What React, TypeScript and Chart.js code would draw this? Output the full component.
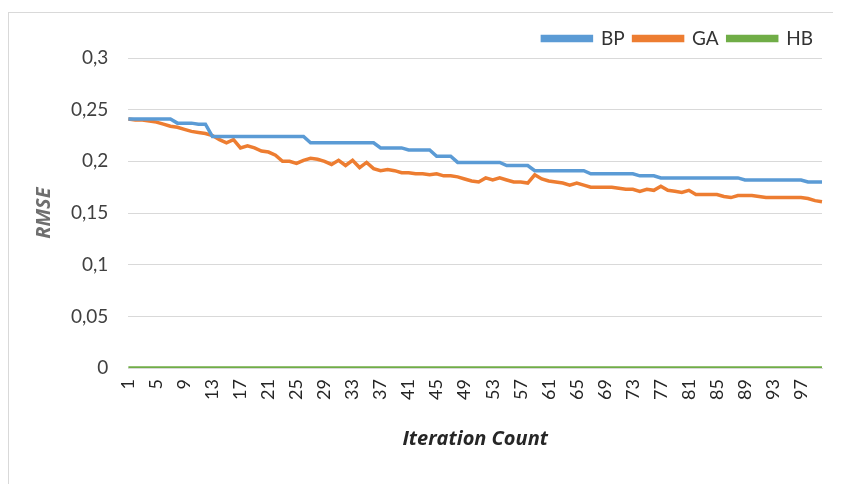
import React, { useEffect, useRef } from "react";
import { Chart, registerables } from "chart.js";

Chart.register(...registerables);

const iterations: string[] = Array.from({ length: 100 }, (_, i) => String(i + 1));

const bpValues: number[] = [
  0.241, 0.241, 0.241, 0.241, 0.241, 0.241, 0.241, 0.237, 0.237, 0.237,
  0.236, 0.236, 0.224, 0.224, 0.224, 0.224, 0.224, 0.224, 0.224, 0.224,
  0.224, 0.224, 0.224, 0.224, 0.224, 0.224, 0.218, 0.218, 0.218, 0.218,
  0.218, 0.218, 0.218, 0.218, 0.218, 0.218, 0.213, 0.213, 0.213, 0.213,
  0.211, 0.211, 0.211, 0.211, 0.205, 0.205, 0.205, 0.199, 0.199, 0.199,
  0.199, 0.199, 0.199, 0.199, 0.196, 0.196, 0.196, 0.196, 0.191, 0.191,
  0.191, 0.191, 0.191, 0.191, 0.191, 0.191, 0.188, 0.188, 0.188, 0.188,
  0.188, 0.188, 0.188, 0.186, 0.186, 0.186, 0.184, 0.184, 0.184, 0.184,
  0.184, 0.184, 0.184, 0.184, 0.184, 0.184, 0.184, 0.184, 0.182, 0.182,
  0.182, 0.182, 0.182, 0.182, 0.182, 0.182, 0.182, 0.180, 0.180, 0.180,
];

const gaValues: number[] = [
  0.241, 0.240, 0.240, 0.239, 0.238, 0.236, 0.234, 0.233, 0.231, 0.229,
  0.228, 0.227, 0.225, 0.221, 0.218, 0.221, 0.213, 0.215, 0.213, 0.210,
  0.209, 0.206, 0.200, 0.200, 0.198, 0.201, 0.203, 0.202, 0.200, 0.197,
  0.201, 0.196, 0.201, 0.194, 0.199, 0.193, 0.191, 0.192, 0.191, 0.189,
  0.189, 0.188, 0.188, 0.187, 0.188, 0.186, 0.186, 0.185, 0.183, 0.181,
  0.180, 0.184, 0.182, 0.184, 0.182, 0.180, 0.180, 0.179, 0.187, 0.183,
  0.181, 0.180, 0.179, 0.177, 0.179, 0.177, 0.175, 0.175, 0.175, 0.175,
  0.174, 0.173, 0.173, 0.171, 0.173, 0.172, 0.176, 0.172, 0.171, 0.170,
  0.172, 0.168, 0.168, 0.168, 0.168, 0.166, 0.165, 0.167, 0.167, 0.167,
  0.166, 0.165, 0.165, 0.165, 0.165, 0.165, 0.165, 0.164, 0.162, 0.161,
];

const hbValues: number[] = Array(100).fill(0);

const seriesNames: string[] = ["BP", "GA", "HB"];
const seriesColors: string[] = ["#5b9bd5", "#ed7d31", "#70ad47"];

const TICK_FONT = "Lato, 'DejaVu Sans', sans-serif";
const TITLE_FONT = "'Open Sans', Lato, sans-serif";

export default function App() {
  const ref = useRef<HTMLCanvasElement | null>(null);

  useEffect(() => {
    if (!ref.current) return;
    const values = [bpValues, gaValues, hbValues];
    const chart = new Chart(ref.current, {
      type: "line",
      data: {
        labels: iterations,
        datasets: seriesNames.map((name, i) => ({
          label: name,
          data: values[i],
          borderColor: seriesColors[i],
          backgroundColor: seriesColors[i],
          borderWidth: 3.5,
          pointRadius: 0,
          tension: 0,
          fill: false,
        })),
      },
      options: {
        animation: false,
        responsive: false,
        maintainAspectRatio: false,
        layout: { padding: { left: 9, right: 27, top: 7, bottom: 32 } },
        plugins: {
          tooltip: { enabled: false },
          legend: {
            position: "top",
            align: "end",
            labels: {
              boxWidth: 49,
              boxHeight: 4,
              padding: 9,
              color: "#333333",
              font: { family: TICK_FONT, size: 19 },
            },
          },
        },
        scales: {
          x: {
            offset: false,
            grid: { display: false, drawTicks: false },
            border: { display: true, color: "#d9d9d9" },
            ticks: {
              autoSkip: false,
              maxRotation: 90,
              minRotation: 90,
              padding: 11,
              color: "#262626",
              font: { family: TICK_FONT, size: 18, lineHeight: 0.8 },
              callback: (_v: any, idx: number) => (idx % 4 === 0 ? iterations[idx] : ""),
            },
            title: {
              display: true,
              text: "Iteration Count",
              color: "#262626",
              font: { family: TITLE_FONT, size: 20, weight: "bold", style: "italic" },
              padding: { top: 16, bottom: 4 },
            },
          },
          y: {
            min: 0,
            max: 0.3,
            grid: { color: "#d9d9d9", lineWidth: 1, drawTicks: false },
            border: { display: false },
            ticks: {
              stepSize: 0.05,
              padding: 20,
              color: "#404040",
              font: { family: TICK_FONT, size: 19 },
              callback: (v: any) => String(Number(Number(v).toFixed(2))).replace(".", ","),
            },
            title: {
              display: true,
              text: "RMSE",
              color: "#6f6f6f",
              font: { family: TITLE_FONT, size: 20, weight: "bold", style: "italic" },
              padding: { top: 14, bottom: -5 },
            },
          },
        },
      },
    });
    return () => chart.destroy();
  }, []);

  return (
    <div
      style={{
        marginTop: 4,
        width: 840,
        height: 474,
        border: "1px solid #d9d9d9",
        background: "#fff",
        boxSizing: "content-box",
      }}
    >
      <canvas ref={ref} width={840} height={474} style={{ display: "block" }} />
    </div>
  );
}
